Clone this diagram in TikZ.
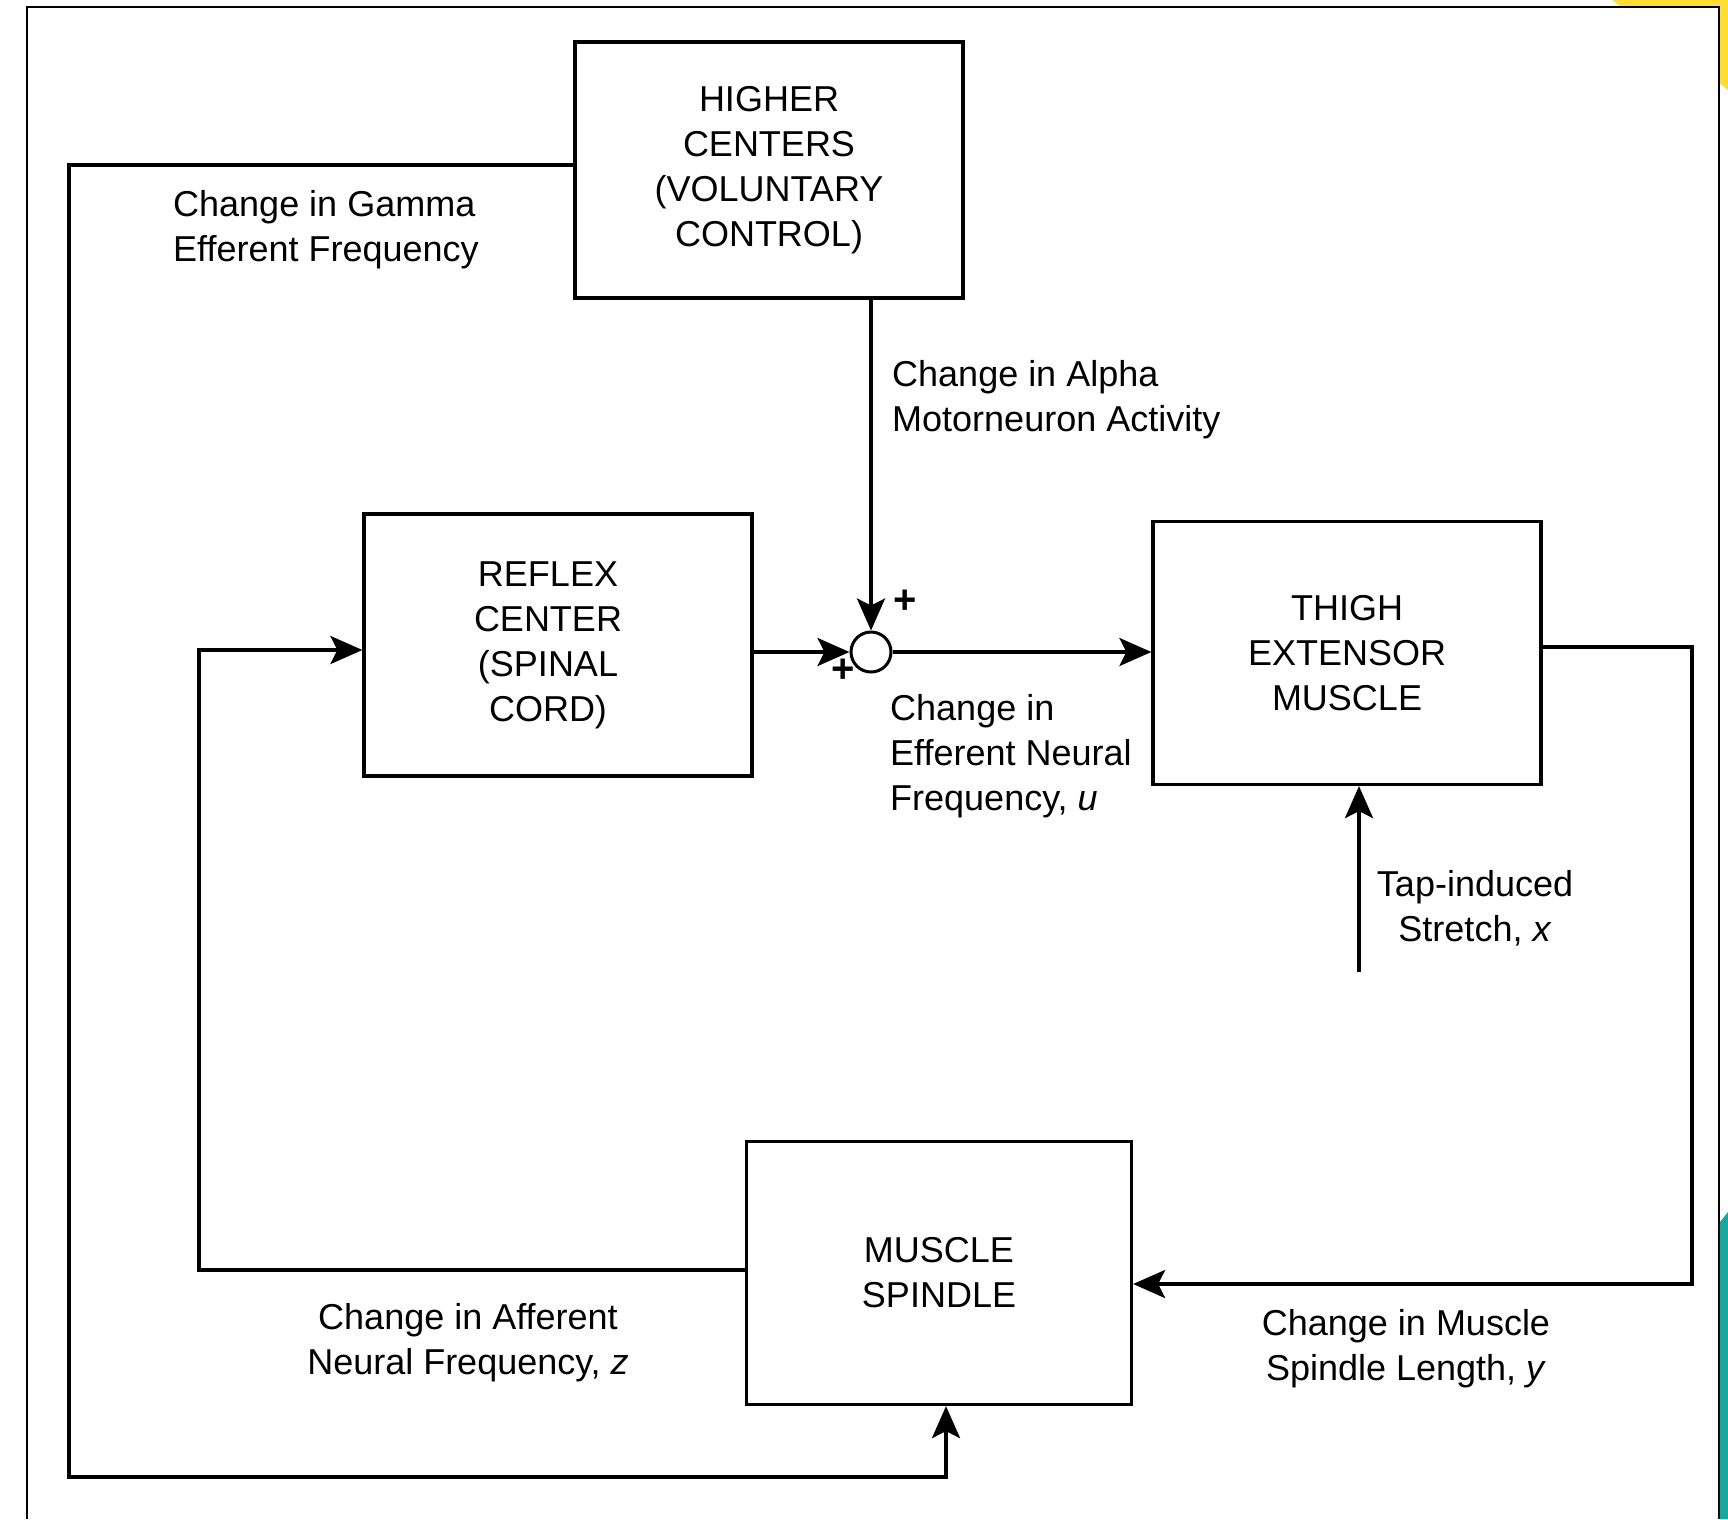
\documentclass[tikz,border=0pt]{standalone}
\usepackage{fontspec}
\setmainfont{Liberation Sans}
\usetikzlibrary{arrows.meta}
\definecolor{tealc}{HTML}{14A89E}
\definecolor{yelc}{HTML}{FFDD33}
\begin{document}
\begin{tikzpicture}[x=1pt,y=-1pt,
  txt/.style={font=\fontsize{36}{45}\selectfont, inner sep=0pt},
  blk/.style={draw, line width=3.2pt, align=center, minimum width=388pt, minimum height=260pt, txt},
  lbl/.style={txt},
  wire/.style={line width=3.6pt},
  arr/.style={wire, -{Stealth[length=32pt, width=28pt, inset=7pt]}},
  plus/.style={font=\fontsize{40}{40}\selectfont\bfseries, inner sep=0pt}]
\useasboundingbox (0,0) rectangle (1728,1519);
% background artefacts
\fill[yelc] (1612,0) -- (1728,0) -- (1728,90) -- cycle;
\fill[tealc] (1720,1222) -- (1728,1212) -- (1728,1519) -- (1720,1519) -- cycle;
\fill[white] (27,7) rectangle (1719,1519);
\draw[line width=2.5pt] (27,1519) -- (27,7) -- (1719,7) -- (1719,1519);
% blocks
\node[blk, minimum width=388pt, minimum height=256pt] (hc) at (769,170) {HIGHER\\CENTERS\\(VOLUNTARY\\CONTROL)};
\node[blk, minimum height=262pt, label={[txt, align=center, xshift=-10pt]center:REFLEX\\CENTER\\(SPINAL\\CORD)}] (rc) at (558,645) {};
\node[blk, minimum height=263pt] (th) at (1347,653) {THIGH\\EXTENSOR\\MUSCLE};
\node[blk, minimum width=385pt, minimum height=263pt] (sp) at (939,1273) {MUSCLE\\SPINDLE};
\node[draw, circle, line width=3pt, minimum size=40pt, inner sep=0pt] (sum) at (871,652) {};
\node[plus] (p1) at (905,602) {+};
\node[plus] (p2) at (843,671) {+};
% coordinates
\coordinate (gTop) at (69,165);
\coordinate (gBot) at (946,1477);
\coordinate (tR) at (1692,647);
\coordinate (sR) at (1692,1284);
\coordinate (sL) at (199,1270);
\coordinate (rL) at (199,650);
\coordinate (tap) at (1359,972);
% connectors
\draw[arr] (hc.west |- gTop) -- (gTop) |- (gBot) -- (gBot |- sp.south);
\draw[arr] (hc.south -| sum) -- (sum.north);
\draw[arr] (rc.east |- sum) -- (sum.west);
\draw[arr] (sum.east) -- (th.west |- sum);
\draw[arr] (th.east |- tR) -- (tR) -- (sR) -- (sp.east |- sR);
\draw[arr] (sp.west |- sL) -- (sL) -- (rL) -- (rc.west |- rL);
\draw[arr] (tap) -- (tap |- th.south);
% labels
\node[lbl, anchor=west, align=left] (lg) at (173,230) {Change in Gamma\\Efferent Frequency};
\node[lbl, anchor=west, align=left] (la) at (892,400) {Change in Alpha\\Motorneuron Activity};
\node[lbl, anchor=west, align=left] (lu) at (890,756) {Change in\\Efferent Neural\\Frequency, \textit{u}};
\node[lbl, align=center] (lx) at (1475,908) {Tap-induced\\Stretch, \textit{x}};
\node[lbl, align=center] (lz) at (468,1343) {Change in Afferent\\Neural Frequency, \textit{z}};
\node[lbl, align=center] (ly) at (1406,1349) {Change in Muscle\\Spindle Length, \textit{y}};
\end{tikzpicture}
\end{document}
